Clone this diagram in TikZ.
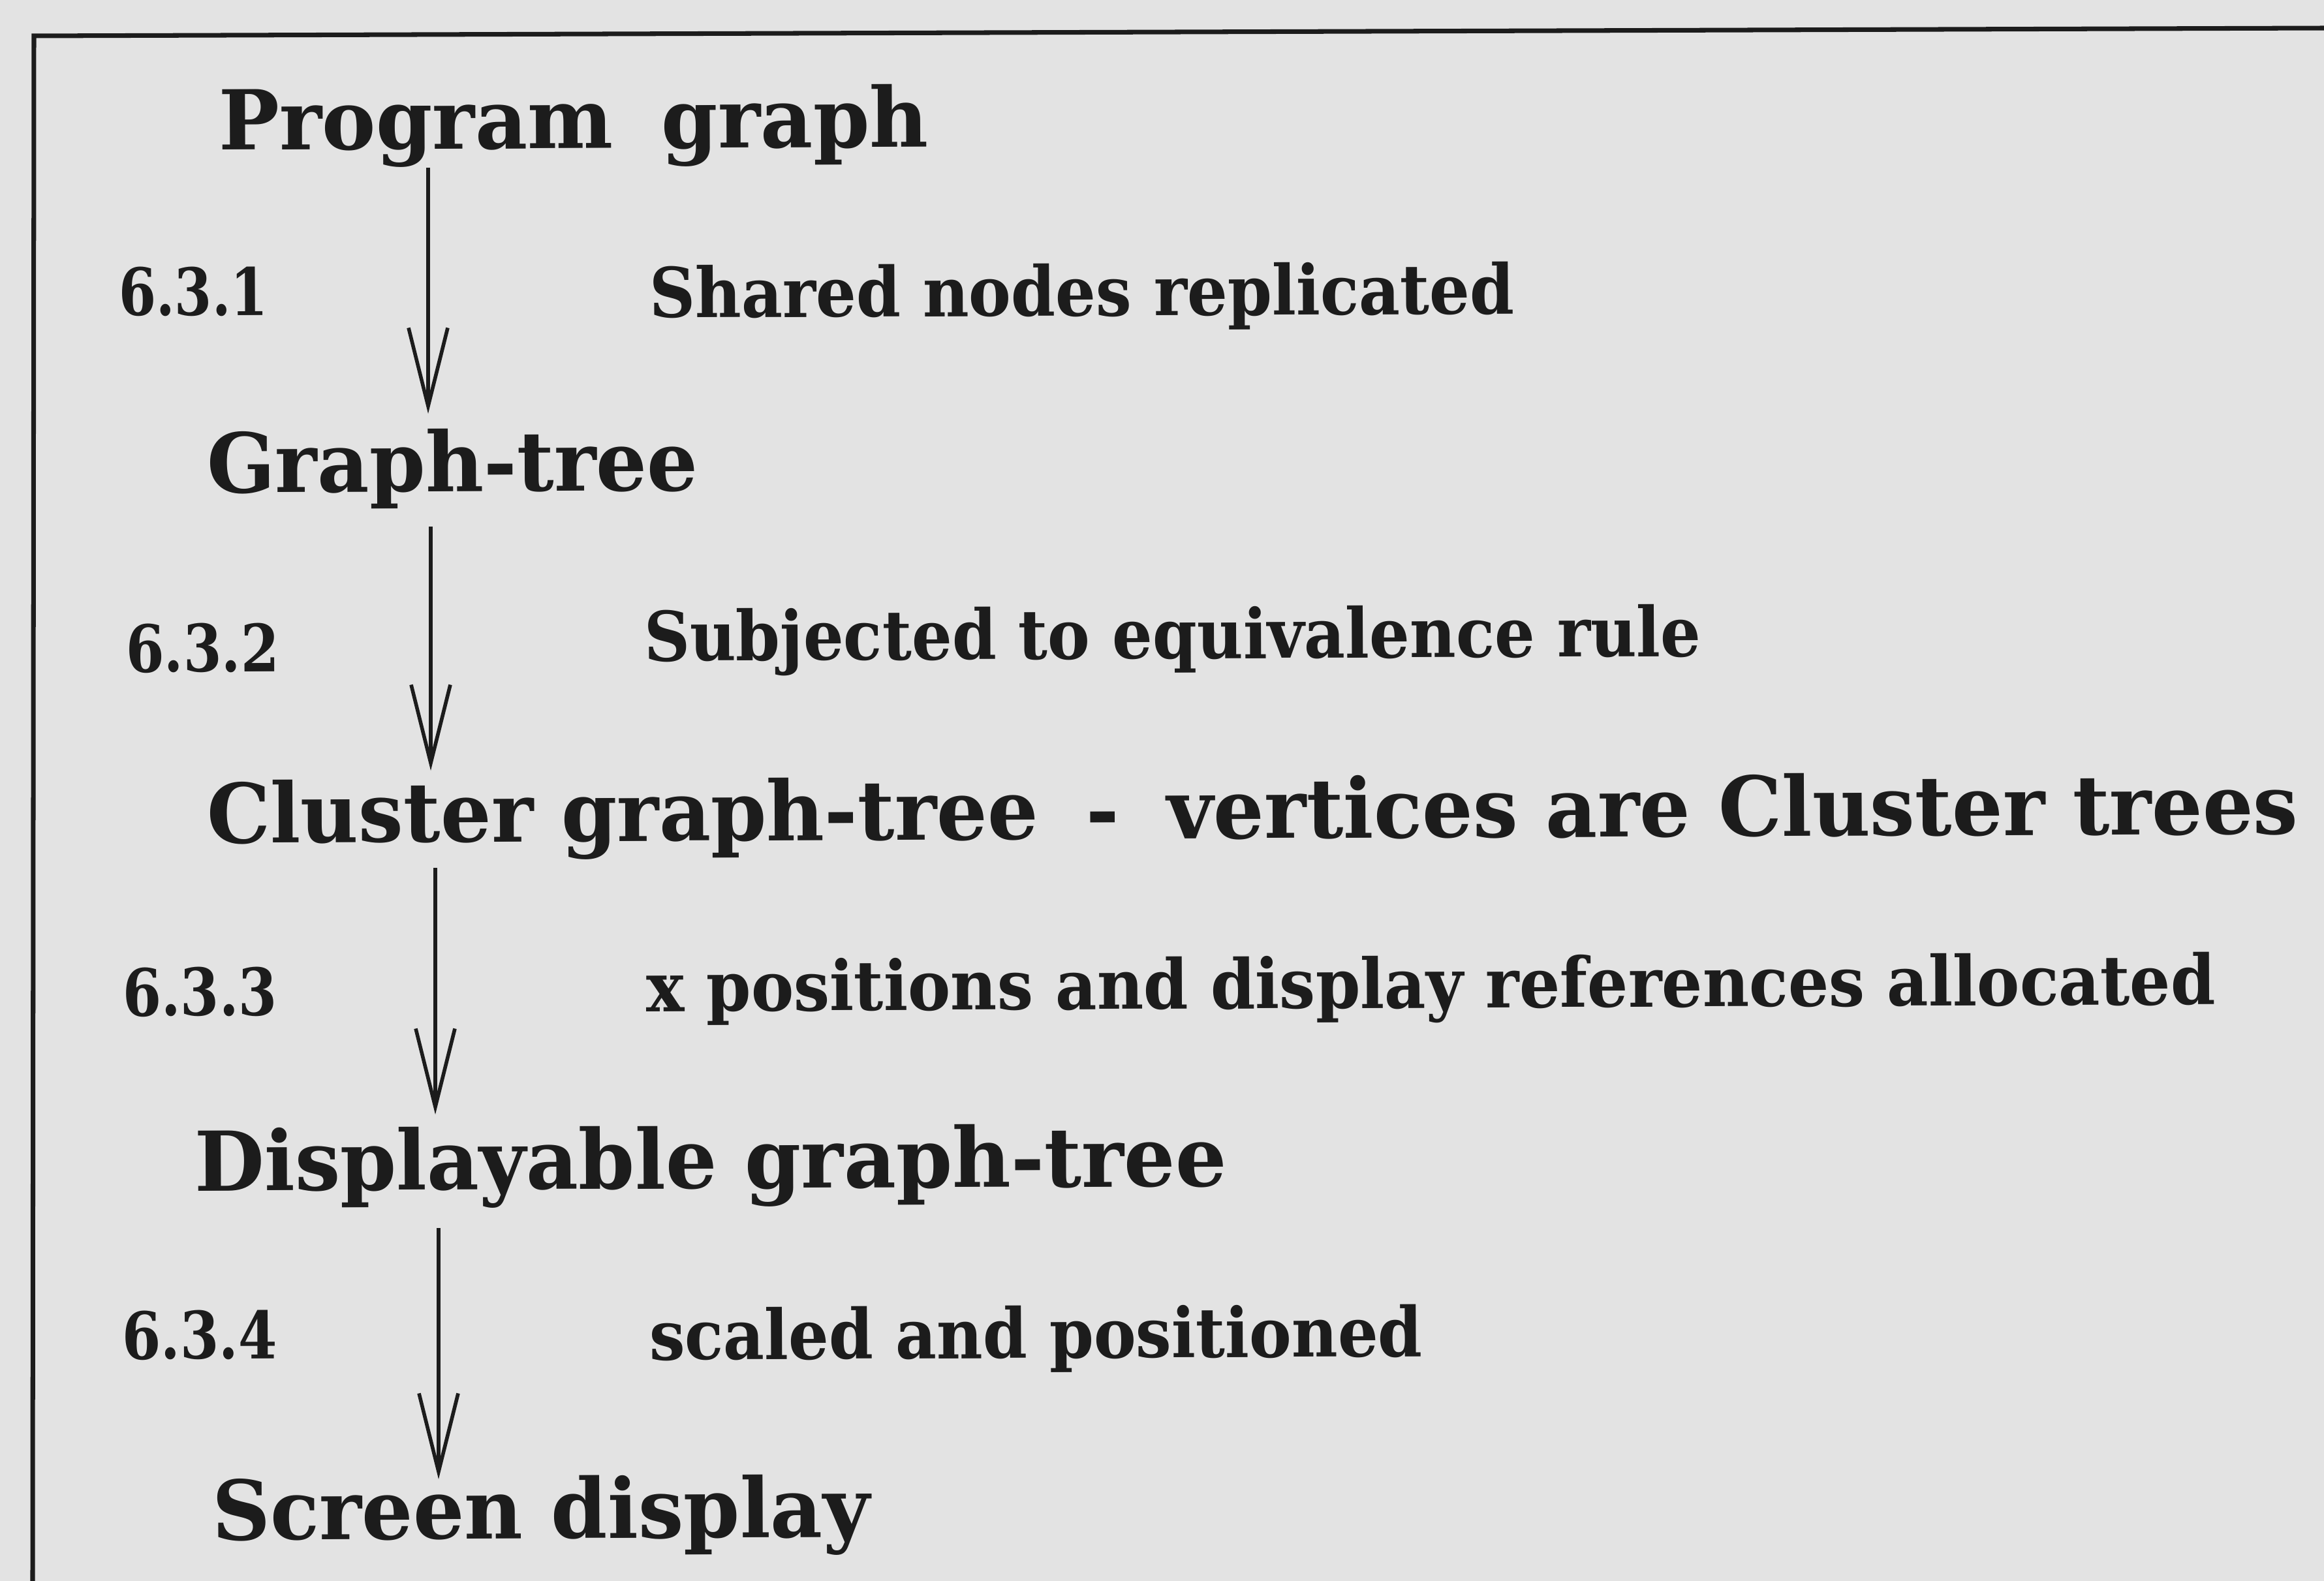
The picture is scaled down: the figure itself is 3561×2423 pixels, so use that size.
\documentclass[tikz,border=0pt]{standalone}
\usepackage{fontspec}
\setmainfont{DejaVu Serif}
\usepackage{graphicx}
\usetikzlibrary{arrows.meta,calc}
\definecolor{paper}{RGB}{227,227,227}
\definecolor{ink}{RGB}{28,28,28}
% set a text to a given width, keeping its natural height
\newcommand\fitw[2]{\resizebox{#1}{\height}{#2}}
\begin{document}
\begin{tikzpicture}[x=0.1mm,y=-0.1mm,
  every node/.style={inner sep=0pt, outer sep=0pt, anchor=base west, text=ink, rotate=0.25},
  stage/.style={font=\fontsize{36}{40}\selectfont\bfseries},
  secnum/.style={font=\fontsize{28.5}{32}\selectfont\bfseries},
  action/.style={font=\fontsize{30}{34}\selectfont\bfseries},
  flow/.style={draw=ink, line width=1.5pt,
    -{Straight Barb[length=12mm,width=6mm,line width=1.6pt]}},
  frame/.style={draw=ink, line width=2pt, line join=miter}]
\useasboundingbox (0,0) rectangle (3561,2423);
\fill[paper] (0,0) rectangle (3561,2423);
\draw[frame] (50,2423) -- (52,55) -- (3561,43);

% stages of the transformation
\node[stage] (pg) at (335,230)  {\fitw{108.8mm}{Program\hspace{0.6em}graph}};
\node[stage] (gt) at (317,755)  {\fitw{75.3mm}{Graph-tree}};
\node[stage] (cg) at (317,1292) {\fitw{320.5mm}{Cluster graph-tree\hspace{0.6em}-\hspace{0.6em}vertices are Cluster trees}};
\node[stage] (dg) at (298,1825) {\fitw{158.2mm}{Displayable graph-tree}};
\node[stage] (sd) at (325,2360) {\fitw{100.8mm}{Screen display}};

% section numbers
\node[secnum] (n1) at (182,484)  {\fitw{22.9mm}{6.3.1}};
\node[secnum] (n2) at (193,1030) {\fitw{23.5mm}{6.3.2}};
\node[secnum] (n3) at (188,1557) {\fitw{23.7mm}{6.3.3}};
\node[secnum] (n4) at (187,2083) {\fitw{23.8mm}{6.3.4}};

% what each step does
\node[action] (d1) at (995,487)  {\fitw{132.6mm}{Shared nodes replicated}};
\node[action] (d2) at (987,1013) {\fitw{162.0mm}{Subjected to equivalence rule}};
\node[action] (d3) at (990,1550) {\fitw{240.5mm}{x positions and display references allocated}};
\node[action] (d4) at (995,2084) {\fitw{118.5mm}{scaled and positioned}};

% columns of the arrows
\coordinate (c1) at (656,0);
\coordinate (c2) at (660,0);
\coordinate (c3) at (667,0);
\coordinate (c4) at (672,0);

\draw[flow] ($(pg.base west -| c1)+(0,27)$) -- ($(gt.base west -| c1)+(0,-121)$);
\draw[flow] ($(gt.base west -| c2)+(0,52)$) -- ($(cg.base west -| c2)+(0,-111)$);
\draw[flow] ($(cg.base west -| c3)+(0,38)$) -- ($(dg.base west -| c3)+(0,-117)$);
\draw[flow] ($(dg.base west -| c4)+(0,57)$) -- ($(sd.base west -| c4)+(0,-93)$);
\end{tikzpicture}
\end{document}
